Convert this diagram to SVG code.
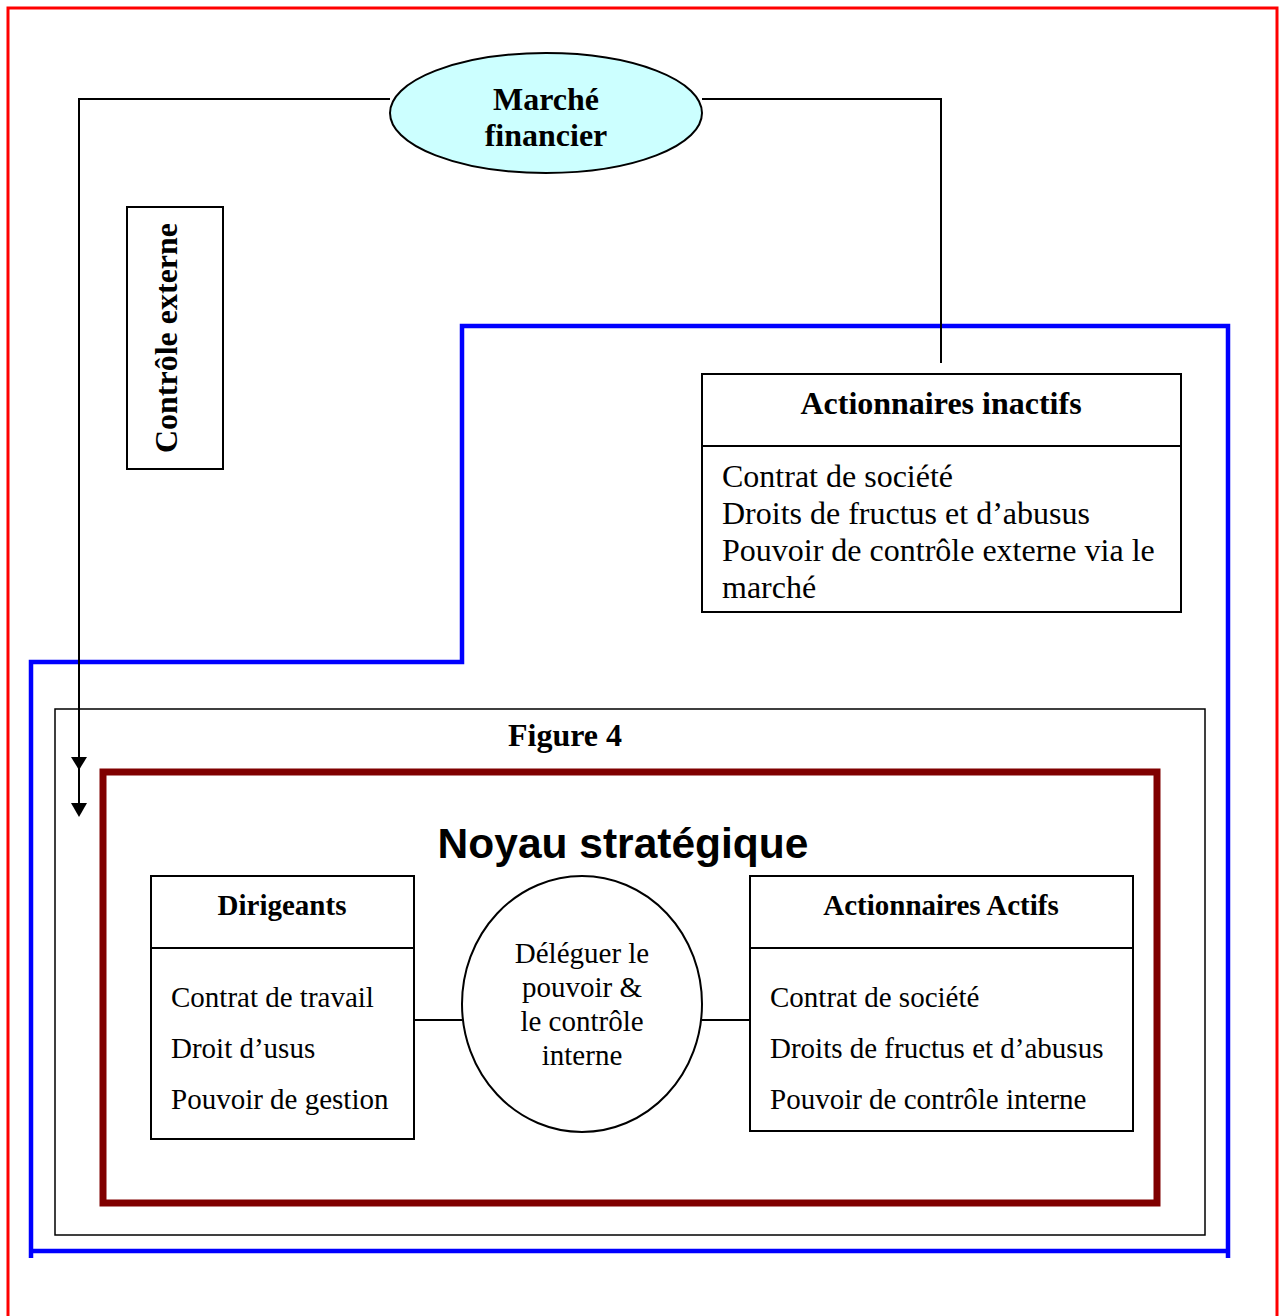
<svg xmlns="http://www.w3.org/2000/svg" width="1280" height="1316" viewBox="0 0 1280 1316">
<defs>
<style>
.t{font-family:"Liberation Serif","Times New Roman",serif;font-size:29px;fill:#000}
.l{font-size:32px}
.b{font-weight:bold}
.c{text-anchor:middle}
.box{fill:#fff;stroke:#000;stroke-width:2}
.ln{fill:none;stroke:#000;stroke-width:2}
</style>
</defs>
<rect x="0" y="0" width="1280" height="1316" fill="#fff"/>
<g id="page-border"><path d="M8,1320 V8 H1277 V1320" fill="none" stroke="#f00" stroke-width="3"/></g>
<g id="blue-zone"><path d="M31,1258 V662 H462 V326 H1228 V1258 M31,1251 H1228" fill="none" stroke="#00f" stroke-width="4.5"/></g>
<g id="figure-frame"><rect x="55" y="709" width="1150" height="526" fill="none" stroke="#000" stroke-width="1.5"/>
<text class="t l b c" x="565" y="746">Figure 4</text></g>
<g id="noyau"><rect x="103" y="772" width="1054" height="431" fill="none" stroke="#800000" stroke-width="7"/>
<text x="623" y="858" text-anchor="middle" style="font-family:'Liberation Sans',Arial,sans-serif;font-weight:bold;font-size:42.5px">Noyau stratégique</text></g>
<g id="connectors">
<path class="ln" d="M390,99 H79 V810"/>
<polygon points="71,757 87,757 79,770" fill="#000"/>
<polygon points="71,803 87,803 79,817" fill="#000"/>
<path class="ln" d="M702,99 H941 V363"/>
<path class="ln" d="M414,1020 H462 M702,1020 H750"/>
</g>
<g id="marche-financier"><ellipse cx="546" cy="113" rx="156" ry="60" fill="#ccffff" stroke="#000" stroke-width="2"/>
<text class="t l b c" x="546" y="110">Marché</text>
<text class="t l b c" x="546" y="146">financier</text></g>
<g id="controle-externe"><rect class="box" x="127" y="207" width="96" height="262"/>
<text class="t l b c" transform="translate(177,338) rotate(-90)">Contrôle externe</text></g>
<g id="actionnaires-inactifs"><rect class="box" x="702" y="374" width="479" height="238"/>
<line x1="702" y1="446" x2="1181" y2="446" stroke="#000" stroke-width="2"/>
<text class="t l b c" x="941" y="414">Actionnaires inactifs</text>
<text class="t l" x="722" y="487">Contrat de société</text>
<text class="t l" x="722" y="524">Droits de fructus et d’abusus</text>
<text class="t l" x="722" y="561">Pouvoir de contrôle externe via le</text>
<text class="t l" x="722" y="598">marché</text></g>
<g id="dirigeants"><rect class="box" x="151" y="876" width="263" height="263"/>
<line x1="151" y1="948" x2="414" y2="948" stroke="#000" stroke-width="2"/>
<text class="t b c" x="282" y="915">Dirigeants</text>
<text class="t" x="171" y="1007">Contrat de travail</text>
<text class="t" x="171" y="1058">Droit d’usus</text>
<text class="t" x="171" y="1109">Pouvoir de gestion</text></g>
<g id="deleguer"><ellipse cx="582" cy="1004" rx="120" ry="128" fill="#fff" stroke="#000" stroke-width="2"/>
<text class="t c" x="582" y="963">Déléguer le</text>
<text class="t c" x="582" y="997">pouvoir &amp;</text>
<text class="t c" x="582" y="1031">le contrôle</text>
<text class="t c" x="582" y="1065">interne</text></g>
<g id="actionnaires-actifs"><rect class="box" x="750" y="876" width="383" height="255"/>
<line x1="750" y1="948" x2="1133" y2="948" stroke="#000" stroke-width="2"/>
<text class="t b c" x="941" y="915">Actionnaires Actifs</text>
<text class="t" x="770" y="1007">Contrat de société</text>
<text class="t" x="770" y="1058">Droits de fructus et d’abusus</text>
<text class="t" x="770" y="1109">Pouvoir de contrôle interne</text></g>
</svg>
